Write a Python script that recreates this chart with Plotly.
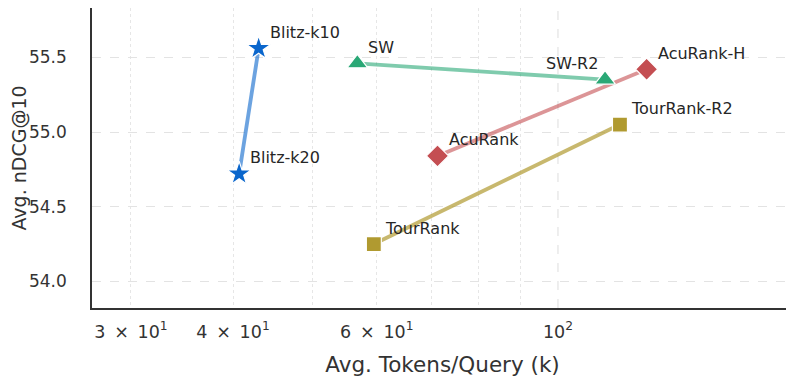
import math
import plotly.graph_objects as go

# 各方法的 token 开销与 nDCG@10
groups = ['Blitz', 'SW', 'AcuRank', 'TourRank']
names = [['Blitz-k10', 'Blitz-k20'], ['SW', 'SW-R2'],
         ['AcuRank', 'AcuRank-H'], ['TourRank', 'TourRank-R2']]
tokens = [[43.0, 40.7], [56.8, 114.2], [71.2, 128.4], [59.5, 119.1]]
ndcg = [[55.56, 54.72], [55.46, 55.35], [54.84, 55.42], [54.25, 55.05]]

colors = ['#0a66cc', '#2aa876', '#c44e52', '#b09a30']
line_colors = ['rgba(10,102,204,0.6)', 'rgba(42,168,118,0.6)',
               'rgba(196,78,82,0.6)', 'rgba(176,154,48,0.7)']
symbols = ['star', 'triangle-up', 'diamond', 'square']
sizes = [18, 18, 17, 15]

x_tickvals = [30, 40, 60, 100]
x_ticktext = ['3\u2002×\u200210<sup>1</sup>', '4\u2002×\u200210<sup>1</sup>',
              '6\u2002×\u200210<sup>1</sup>', '10<sup>2</sup>']
y_tickvals = [54.0, 54.5, 55.0, 55.5]

fig = go.Figure()
for i in range(len(groups)):
    fig.add_trace(go.Scatter(
        x=tokens[i], y=ndcg[i], mode='lines',
        line=dict(color=line_colors[i], width=3.8),
        showlegend=False, hoverinfo='skip',
    ))
for i in range(len(groups)):
    fig.add_trace(go.Scatter(
        x=tokens[i], y=ndcg[i], mode='markers', name=groups[i],
        marker=dict(symbol=symbols[i], size=sizes[i], color=colors[i],
                    line=dict(color='white', width=1.2)),
        text=names[i], showlegend=False,
    ))

# 点旁边的文字标签（对数轴上注释的 x 要取 log10）
for i in range(len(groups)):
    for j in range(2):
        label = names[i][j]
        if label == 'SW-R2':
            xanchor, xshift = 'right', -5
        else:
            xanchor, xshift = 'left', 9
        fig.add_annotation(
            x=math.log10(tokens[i][j]), y=ndcg[i][j], xref='x', yref='y', text=label,
            showarrow=False, xanchor=xanchor, yanchor='middle',
            xshift=xshift, yshift=16,
            font=dict(family='DejaVu Sans', size=16, color='#262626'),
        )

# 10^2 处的主网格线（虚线）
fig.add_shape(type='line', xref='x', yref='paper', x0=100, x1=100, y0=0, y1=1,
              line=dict(color='#e3e3e3', width=1.2, dash='dash'), layer='below')

# 页面 body 自带 8px 外边距，所以边距都减去 8
fig.update_layout(
    width=794, height=382,
    margin=dict(l=84, r=9, t=0, b=82),
    plot_bgcolor='white', paper_bgcolor='white',
    font=dict(family='DejaVu Sans', size=17, color='#333333'),
    xaxis=dict(
        type='log', range=[1.4294, 2.2878],
        tickvals=x_tickvals, ticktext=x_ticktext,
        showgrid=False, zeroline=False, automargin=False,
        showline=True, linecolor='#333333', linewidth=1.5,
        ticks='', ticklabelstandoff=7, tickfont=dict(size=17.5, color='#333333'),
        title=dict(text='Avg. Tokens/Query (k)', font=dict(size=21.5), standoff=16),
        minor=dict(tickvals=[30, 40, 50, 60, 70, 80, 90, 200], showgrid=True,
                   gridcolor='#e6e6e6', griddash='dot', gridwidth=1.2),
    ),
    yaxis=dict(
        range=[53.822, 55.83],
        tickvals=y_tickvals, ticktext=['54.0', '54.5', '55.0', '55.5'],
        showgrid=True, gridcolor='#e3e3e3', griddash='dash', gridwidth=1.2,
        zeroline=False, automargin=False,
        showline=True, linecolor='#333333', linewidth=1.5,
        ticks='', ticklabelstandoff=20, tickfont=dict(size=17, color='#333333'),
        title=dict(text='Avg. nDCG@10', font=dict(size=19), standoff=3),
    ),
)

fig.write_html('out.html')
